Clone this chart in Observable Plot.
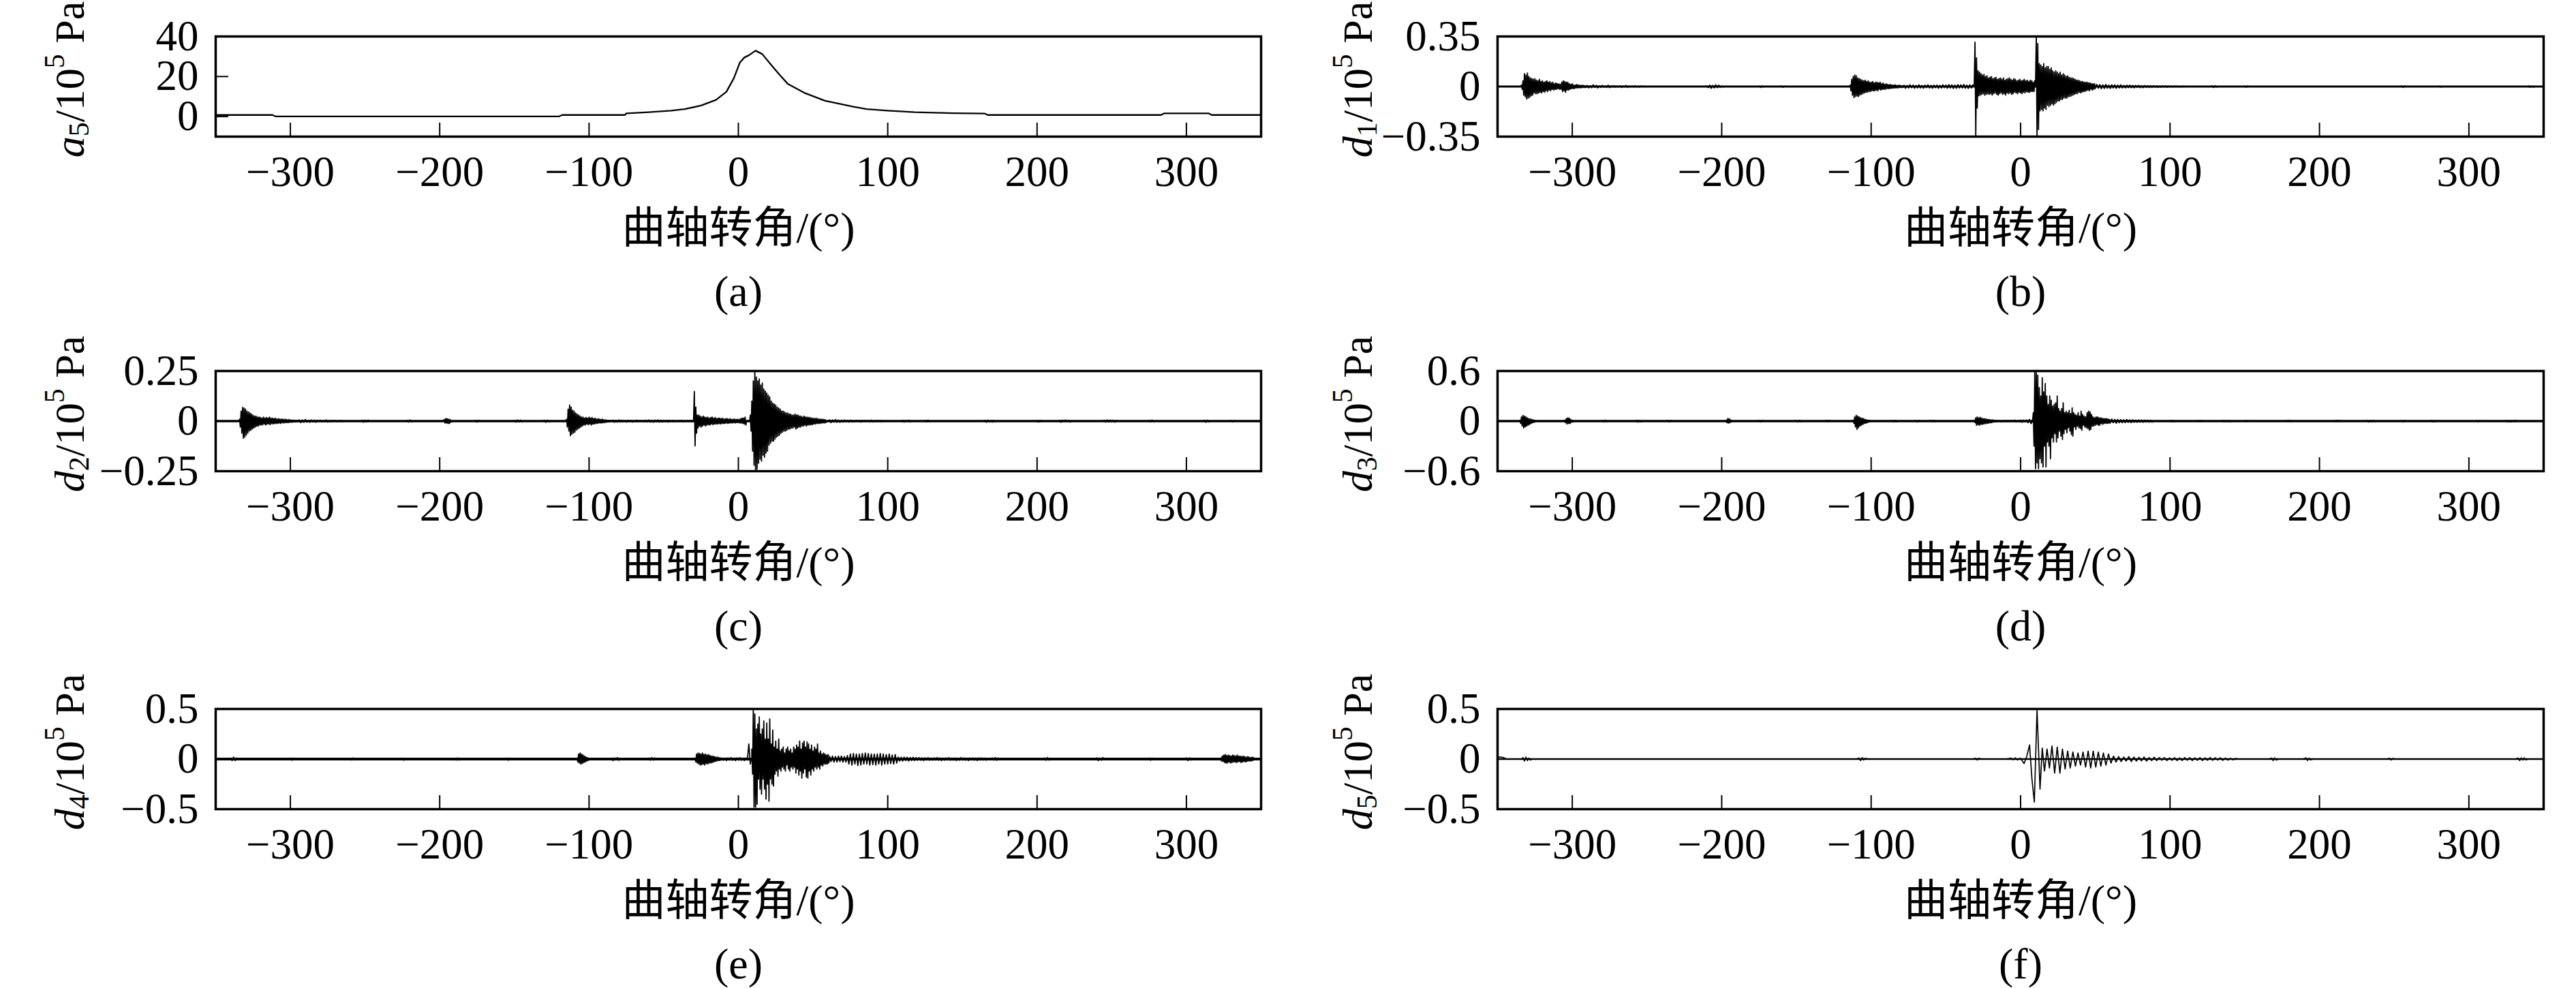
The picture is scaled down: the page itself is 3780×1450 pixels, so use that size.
<!DOCTYPE html>
<html><head><meta charset="utf-8">
<script src="https://cdn.jsdelivr.net/npm/d3@7"></script>
<script src="https://cdn.jsdelivr.net/npm/@observablehq/plot@0.6"></script>
<style>
html,body{margin:0;padding:0;background:#fff;overflow:hidden}
#wrap{position:relative;width:3780px;height:1450px;overflow:hidden;background:#fff}
.panel{position:absolute;width:1890px}
</style>
</head><body><div id="wrap"></div>
<script>
// ---------- tick labels / texts ----------
const xTicks = [-300, -200, -100, 0, 100, 200, 300];
const xTickLabels = ["−300", "−200", "−100", "0", "100", "200", "300"];
const xDomain = [-350, 350];
const xLabel = "曲轴转角/(°)";
const captions = ["(a)", "(b)", "(c)", "(d)", "(e)", "(f)"];
const ySymbols = ["a", "d", "d", "d", "d", "d"];
const ySubs = ["5", "1", "2", "3", "4", "5"];
const yUnit = ["/10", "5", "\u00a0Pa"];
const yTicksA5 = [0, 20, 40];
const yTickLabelsA5 = ["0", "20", "40"];
const yDomainA5 = [-10, 40];
const yTicksD1 = [-0.35, 0, 0.35];
const yTickLabelsD1 = ["−0.35", "0", "0.35"];
const yTicksD2 = [-0.25, 0, 0.25];
const yTickLabelsD2 = ["−0.25", "0", "0.25"];
const yTicksD3 = [-0.6, 0, 0.6];
const yTickLabelsD3 = ["−0.6", "0", "0.6"];
const yTicksD4 = [-0.5, 0, 0.5];
const yTickLabelsD4 = ["−0.5", "0", "0.5"];
const yTicksD5 = [-0.5, 0, 0.5];
const yTickLabelsD5 = ["−0.5", "0", "0.5"];

// ---------- a5 (approximation) ----------
const a5Angle = [-350,-312,-310,-120,-118,-76,-75,-60,-45,-36,-25,-15,-8,-3,1,4,7,11.5,16,23,28,33,44,58,77,86,100,118,144,165,167,283,285,315,317,350];
const a5Value = [0.8,0.8,0.1,0.1,0.8,0.8,1.6,2.2,3.0,3.7,5.5,8.3,12.4,19.2,27,29.5,30.6,32.9,31.2,24.9,20.5,16.4,11.9,7.9,4.9,3.7,3.0,2.2,1.7,1.5,0.8,0.8,1.6,1.6,0.8,0.8];

// ---------- detail signals: [start angle, angle step, values] ----------
const d1Segments = [
 [-334,0.5,[.01,-.02,.04,-.06,.09,-.07,.08,-.087,.095,-.08,.07,-.075,.06,-.065,.055,-.06,.05,-.045,.055,-.05,.045,-.05,.04,-.045,.05,-.04,.035,-.045,.04,-.035,.03,-.04,.035,-.03,.04,-.035,.03,-.025,.035,-.03,.025,-.02,.03,-.025,.02,-.02,.025,-.02,.02,-.015,.02,-.02,.015,-.02,.03,-.035,.04,-.03,.035,-.04,.03,-.025,.03,-.025,.02,-.02,.015,-.015,.02,-.015,.01,-.015,.01,-.01,.015,-.01,.01,-.008,.01,-.01,.008,-.008,.01,-.006,.006,-.008,.005,-.005]],
 [-290,1,[.008,-.01,.006,-.008,.012,-.006,.008,-.01,.005,-.006,.008,-.005,.004,-.006,.01,-.008,.005,-.004,.006,-.005,.004,-.003,.005,-.006,.004,-.003,.008,-.006,.004,-.003,.003,-.004,.005,-.003,.002,-.003,.004,-.002,.003,-.002]],
 [-210,1,[.004,-.008,.01,-.012,.008,-.01,.012,-.008,.01,-.006,.004,-.003]],
 [-175,1,[.003,-.006,.004,-.003]],
 [-160,1,[.004,-.005,.003]],
 [-114,0.5,[.01,-.03,.05,-.06,.07,-.077,.08,-.07,.075,-.065,.06,-.07,.055,-.06,.05,-.055,.045,-.05,.04,-.045,.045,-.04,.035,-.04,.04,-.035,.03,-.035,.03,-.03,.035,-.03,.025,-.03,.03,-.025,.03,-.03,.025,-.02,.03,-.025,.02,-.02,.025,-.02,.015,-.02,.02,-.015,.015,-.015,.012,-.015,.015,-.012,.01,-.012,.01,-.01,.012,-.01,.008,-.01,.008,-.008,.01,-.006,.006,-.008,.005,-.005]],
 [-78,1,[.01,-.012,.008,-.01,.012,-.008,.01,-.012,.008,-.01,.012,-.01,.008,-.012,.01,-.008,.012,-.01,.008,-.012,.01,-.008,.01,-.012,.008,-.01,.012,-.008,.01,-.012,.014,-.01,.012,-.014,.01,-.012,.014,-.01,.012,-.01,.015,-.012,.01,-.014,.012,-.01,.012]],
 [-31,0.5,[.02,.31,-.36,.2,-.15,.11,-.065,.1,-.06,.09,-.055,.08,-.05,.085,-.06,.07,-.055,.075,-.05,.06,-.055,.065,-.05,.07,-.06,.055,-.05,.06,-.045,.065,-.055,.05,-.06,.055,-.05,.06,-.045,.05,-.055,.06,-.05,.045,-.06,.05,-.045,.055,-.05,.06,-.045,.05,-.055,.045,-.05,.055,-.04,.05,-.045,.04,-.05,.045,-.04,.05,-.045,.04,-.05,.045,-.04,.05,-.045,.04,-.035,.045,-.04,.035,-.04,.045,-.035,.04,-.035,.03,-.035,.04]],
 [10.5,0.5,[.36,-.36,.3,-.3,.16,-.17,.15,-.16,.14,-.17,.16,-.15,.13,-.16,.14,-.13,.14,-.14,.12,-.13,.13,-.12,.11,-.13,.1,-.12,.11,-.11,.1,-.1,.09,-.1,.1,-.09,.08,-.09,.09,-.08,.08,-.08,.07,-.08,.075,-.07,.065,-.07,.06,-.065,.06,-.06,.055,-.055,.05,-.05,.045,-.05,.045,-.04,.04,-.045,.035,-.04,.035,-.035,.03,-.035,.03,-.03,.03,-.025,.025,-.03,.025,-.02,.02,-.025,.02,-.02,.02,-.015]],
 [51,1,[.015,-.012,.014,-.015,.012,-.014,.015,-.012,.01,-.014,.012,-.01,.012,-.012,.01,-.01,.012,-.01,.008,-.01,.01,-.008,.01,-.008,.008,-.01,.008,-.006,.008,-.008,.006,-.008,.007,-.006,.006,-.007,.005,-.006,.006,-.005,.005,-.006,.004,-.005,.005,-.004,.004,-.005,.004,-.004,.003,-.004,.004,-.003,.003,-.003,.002,-.003,.003,-.002]],
 [128,1,[.004,-.006,.005,-.004]],
 [150,1,[.003,-.005,.004]],
 [255,1,[.004,-.006,.004]],
 [280,1,[.003,-.004]],
 [340,1,[.004,-.005,.003,-.004]]
];

const d2Segments = [
 [-334,0.5,[.01,-.03,.05,-.06,.068,-.085,.065,-.08,.06,-.07,.05,-.06,.045,-.05,.04,-.045,.035,-.04,.03,-.035,.025,-.03,.025,-.025,.02,-.025,.02,-.02,.018,-.02,.015,-.018,.02,-.015,.015,-.02,.018,-.015,.015,-.015,.02,-.018,.015,-.012,.015,-.015,.012,-.012,.015,-.012,.01,-.012,.012,-.01,.01,-.012,.01,-.008,.01,-.01,.008,-.008,.01,-.008,.006,-.008,.008,-.006,.006,-.006,.005,-.006,.005,-.004,.004,-.005,.004,-.004,.004,-.003]],
 [-294,1,[.006,-.008,.005,-.006,.008,-.005,.004,-.006,.006,-.004,.005,-.006,.004,-.003,.005,-.004,.003,-.004,.006,-.005,.003,-.004,.004,-.003,.003,-.004,.002,-.003,.004,-.003]],
 [-252,1,[.004,-.006,.005,-.004,.005]],
 [-222,1,[.003,-.005,.006,-.004]],
 [-197,0.5,[.008,-.01,.012,-.01,.012,-.012,.01,-.012,.008,-.006]],
 [-176,1,[.004,-.005,.004]],
 [-150,1,[.003,-.005,.006,-.004,.005,-.003]],
 [-130,1,[.004,-.006,.005,-.004]],
 [-115,0.5,[.01,-.03,.06,-.05,.08,-.073,.07,-.065,.055,-.06,.05,-.055,.04,-.045,.035,-.04,.03,-.035,.025,-.03,.02,-.025,.02,-.02,.015,-.02,.018,-.015,.015,-.018,.02,-.015,.015,-.02,.018,-.015,.012,-.015,.015,-.012,.01,-.012,.012,-.01,.01,-.01,.008,-.01,.01,-.008,.006,-.008,.006,-.006,.005,-.005,.004,-.004,.004,-.003]],
 [-84,1,[.005,-.006,.004,-.005,.006,-.004,.005,-.004,.003,-.005,.004,-.003,.004,-.005,.003,-.004,.005,-.003,.004,-.003,.003,-.004,.005,-.004,.006,-.005,.004,-.006,.005,-.004,.006,-.005,.004,-.005,.004,-.003,.004,-.005,.004,-.003,.004,-.004,.003,-.003,.004,-.003,.004,-.004,.003,-.003,.003,-.003,.004,-.004]],
 [-30,0.5,[.01,.148,-.124,.07,-.06,.03,-.035,.03,-.025,.025,-.03,.02,-.025,.025,-.02,.02,-.025,.018,-.02,.02,-.018,.015,-.02,.018,-.015,.02,-.018,.015,-.015,.018,-.015,.012,-.015,.015,-.012,.015,-.015,.012,-.012,.015,-.012,.01,-.012,.012,-.01,.012,-.012,.01,-.01,.012,-.01,.008,-.01,.01,-.008,.01,-.01,.008,-.008,.01,-.008,.008,-.01,.012,-.01,.015,-.012,.015,-.015,.02,-.02]],
 [8,0.5,[.03,-.05,.1,-.15,.2,-.22,.245,-.25,.22,-.24,.2,-.21,.21,-.19,.18,-.2,.19,-.17,.16,-.18,.15,-.16,.14,-.15,.13,-.12,.12,-.11,.1,-.1,.09,-.1,.085,-.09,.08,-.08,.07,-.075,.065,-.07,.06,-.06,.05,-.055,.05,-.05,.045,-.05,.04,-.045,.04,-.04,.035,-.04,.035,-.035,.03,-.035,.03,-.03,.035,-.04,.03,-.035,.03,-.03,.025,-.03,.025,-.025,.02,-.025,.025,-.02,.02,-.025,.02,-.02,.018,-.02,.018,-.018,.015,-.018,.015,-.015,.012,-.015,.015,-.012,.012,-.012,.01,-.012,.01,-.01,.01,-.01,.008,-.01,.008,-.008]],
 [61,1,[.006,-.008,.006,-.005,.008,-.006,.005,-.006,.004,-.005,.006,-.004,.004,-.005,.005,-.004,.003,-.004,.004,-.003,.004,-.005,.004,-.003,.004,-.003,.003,-.004,.005,-.004,.003,-.003,.004,-.003,.003,-.004]],
 [110,1,[.004,-.005,.004,-.003,.005,-.004]],
 [125,1,[.003,-.004,.005,-.003]],
 [165,1,[.004,-.006,.005,-.004,.003,-.005,.004,-.003]],
 [200,1,[.003,-.005,.004,-.003]],
 [215,1,[.004,-.006,.005,-.004,.006,-.003,.004,-.005]],
 [245,1,[.004,-.005,.006,-.004,.005,-.003,.004,-.005,.003]],
 [275,1,[.003,-.004,.005,-.003]],
 [312,1,[.004,-.006,.005,-.004]],
 [330,1,[.003,-.004,.003]]
];

const d3Segments = [
 [-335,0.5,[.01,-.03,.05,-.06,.068,-.082,.06,-.07,.05,-.06,.04,-.05,.03,-.04,.025,-.03,.02,-.02,.015,-.015,.01,-.01]],
 [-305,0.5,[.01,-.02,.03,-.035,.04,-.03,.035,-.03,.02,-.015,.01,-.01]],
 [-280,1,[.008,-.01,.012,-.008]],
 [-257,1,[.01,-.012,.008,-.01]],
 [-236,1,[.008,-.01,.006]],
 [-197,0.5,[.01,-.02,.03,-.025,.03,-.02,.015,-.01]],
 [-175,1,[.008,-.01,.008]],
 [-150,1,[.008,-.01,.01,-.008]],
 [-130,1,[.01,-.008,.008]],
 [-112,0.5,[.01,-.03,.05,-.07,.07,-.1,.06,-.08,.05,-.06,.04,-.05,.035,-.04,.03,-.03,.02,-.025,.015,-.02,.012,-.01,.01,-.008]],
 [-86,1,[.008,-.01,.01,-.008]],
 [-70,1,[.006,-.01,.008]],
 [-60,1,[.01,-.008,.01,-.006]],
 [-31,0.5,[.01,-.02,.04,-.05,.05,-.045,.04,-.05,.045,-.04,.035,-.04,.03,-.035,.03,-.03,.025,-.03,.02,-.025,.02,-.02,.015,-.02,.015,-.015,.012,-.01,.01,-.01]],
 [-16,1,[.008,-.006,.008,-.01,.006,-.008,.01,-.008,.006,-.008,.01,-.008,.012,-.01,.008,-.01,.012,-.014,.012,-.01,.015,-.02,.02,-.03]],
 [8.5,0.5,[.1,-.3,.59,-.57,.58,-.5,.55,-.57,.4,-.45,.3,-.5,.52,-.55,.35,-.3,.45,-.55,.3,-.25,.2,-.3,.3,-.45,.25,-.2,.18,-.25,.2,-.15,.22,-.25,.3,-.2,.15,-.12,.12,-.18,.15,-.22,.22,-.15,.1,-.1,.12,-.14,.1,-.08,.13,-.12,.09,-.16,.16,-.18,.1,-.07,.08,-.1,.07,-.06,.1,-.08,.06,-.09,.12,-.11,.08,-.05,.06,-.07,.05,-.08,.1,-.09,.12,-.11,.11,-.1,.08,-.06,.05,-.06,.04,-.05,.05,-.04,.05,-.05,.04,-.05,.04,-.03,.035,-.04,.03,-.03,.03,-.025,.03,-.03,.025,-.025,.02,-.025]],
 [61,1,[.025,-.02,.02,-.025,.02,-.02,.018,-.02,.015,-.018,.02,-.015,.015,-.018,.015,-.015,.012,-.015,.015,-.012,.012,-.015,.012,-.01,.012,-.012,.01,-.012]],
 [100,1,[.008,-.01,.008,-.006]],
 [118,1,[.006,-.008,.01,-.008,.006]],
 [135,1,[.008,-.01,.008,-.006,.008,-.01]],
 [150,1,[.006,-.008,.006]],
 [178,1,[.008,-.006,.01,-.008]],
 [210,1,[.006,-.008,.01,-.006,.008]],
 [232,1,[.008,-.01,.006,-.008,.01,-.008]],
 [255,1,[.006,-.008,.008]],
 [275,1,[.008,-.01,.008,-.006]],
 [305,1,[.006,-.008,.006]],
 [325,1,[.008,-.01,.008,-.01,.006,-.008,.01,-.006]]
];

const d4Segments = [
 [-340,1,[.01,-.015,.02,-.015,.01]],
 [-300,1,[.01,-.012,.01]],
 [-260,1,[.008,-.01,.012,-.008]],
 [-225,1,[.01,-.012,.008]],
 [-190,1,[.008,-.01,.012,-.01,.008]],
 [-155,1,[.01,-.012,.01]],
 [-108,0.5,[.01,-.03,.05,-.04,.06,-.05,.05,-.045,.04,-.035,.03,-.03,.02,-.02,.015,-.015]],
 [-85,1,[.01,-.015,.012,-.01,.015,-.012]],
 [-60,1,[.01,-.012,.015,-.01,.012]],
 [-29,0.5,[.01,-.03,.05,-.04,.06,-.05,.055,-.06,.05,-.055,.06,-.05,.045,-.06,.05,-.045,.04,-.05,.045,-.04,.035,-.04,.03,-.035,.03,-.03,.025,-.025,.02,-.02,.02,-.015,.015,-.015,.012,-.01]],
 [-11,1,[.01,-.012,.01,-.015,.012,-.01,.015,-.012,.01,-.015,.012,-.01,.015,-.012,.01,-.015,.012,-.01,.15,-.05]],
 [9,0.5,[.1,-.15,.5,-.48,.45,-.48,.3,-.45,.35,-.2,.42,-.3,.25,-.35,.3,-.2,.38,-.3,.2,-.4,.36,-.25,.2,-.42,.4,-.2,.15,-.25,.29,-.27,.12,-.15,.18,-.12,.1,-.17,.2,-.1,.08,-.12,.1,-.08,.12,-.1,.06,-.12,.1,-.06,.12,-.1,.08,-.12,.1,-.08,.06,-.1,.12,-.08,.1,-.14,.14,-.1,.12,-.16,.18,-.12,.1,-.19,.16,-.14,.18,-.1,.12,-.18,.17,-.19,.15,-.12,.1,-.16,.14,-.1,.08,-.12,.12,-.08,.1,-.1,.15,-.08,.06,-.1,.08,-.06,.05,-.07,.06,-.05,.05,-.05,.04,-.05,.045,-.04]],
 [61,1,[.03,-.025,.03,-.03,.025,-.03,.03,-.025,.03,-.03,.025,-.03,.035,-.05,.05,-.06,.055,-.05,.05,-.065,.05,-.06,.055,-.05,.06,-.05,.055,-.06,.05,-.055,.05,-.06,.05,-.05,.055,-.06,.05,-.05,.045,-.05,.05,-.045,.04,-.05,.045,-.04,.02,-.02,.018,-.02,.02,-.015,.018,-.02,.015,-.015,.018,-.015,.015,-.012]],
 [121,1,[.015,-.012,.012,-.015,.012,-.01,.015,-.012,.01,-.012,.012,-.01,.015,-.012,.012,-.015,.01,-.012,.012,-.01,.015,-.012,.01,-.012,.012,-.015,.01,-.012,.015,-.01,.012,-.012,.01,-.015,.012,-.01,.012,-.012,.01,-.015,.012,-.01,.012,-.01,.01,-.012]],
 [170,1,[.012,-.01,.015,-.012,.01]],
 [205,1,[.01,-.012,.015,-.01]],
 [240,1,[.012,-.015,.01,-.012,.015]],
 [275,1,[.01,-.012,.01]],
 [300,1,[.012,-.015,.012,-.01]],
 [323,0.5,[.01,-.02,.03,-.025,.04,-.035,.045,-.04,.035,-.04,.04,-.03,.035,-.04,.03,-.035,.04,-.03,.035,-.03,.03,-.035,.04,-.03,.03,-.025,.03,-.035,.025,-.03,.03,-.025,.025,-.03,.02,-.025,.025,-.02,.02,-.02,.015,-.02,.02,-.015,.015]]
];

const d5Angle = [-350,-348,-346,-344, -334,-333,-332,-331,-330,-329,-328,-327, -110,-108,-107,-106,-105,-104,-102, -32,-30,-29,-28,-26,
 -10,-8,-6.5,-5,-3.5,-2,-0.5,1,2.3,4, 6,7.6,9.2,11,13,14.5,
 16,17.7,19.3,21,22.8,24.5,26.3,28,29.8,31.5, 33.2,35,36.7,38.4,40.1,41.8,43.5,45.2,46.9,48.6,
 50.3,52,53.7,55.4,57.1,58.8,60.5,62.2,63.9,65.6, 67.3,69,70.7,72.4,74.1,75.8,77.5,79.2,80.9,82.6,
 84.3,86,87.7,89.4,91.1,92.8,94.5,96.2,97.9,99.6, 101.3,103,104.7,106.4,108.1,109.8,111.5,113.2,114.9,116.6,
 118.3,120,121.7,123.4,125.1,126.8,128.5,130.2,131.9,133.6, 135.3,137,138.7,140.4,142.1,143.8,146,
 166,168,169,170,171,173, 189,191,192,193,194,196, 245,247,248,249,251, 331,333,334,335,336,337,338,340, 350];
const d5Value = [.02,.02,.015,0, 0,.015,-.02,.02,-.015,.01,-.01,0, 0,.01,-.015,.015,-.01,.008,0, 0,.008,-.01,.008,0,
 0,.005,.01,-.008,.012,-.01,.01,-.015,-.045,.02, .14,-.2,-.43,.49,-.3,.11,
 -.12,.1,-.09,.13,-.14,.12,-.14,.1,-.1,.08, -.09,.07,-.07,.06,-.06,.07,-.08,.08,-.09,.08,
 -.08,.07,-.07,.06,-.06,.05,-.04,.03,-.03,.025, -.025,.02,-.02,.025,-.025,.02,-.02,.018,-.018,.02,
 -.02,.015,-.015,.018,-.015,.015,-.012,.015,-.015,.012, -.012,.015,-.015,.012,-.015,.015,-.012,.015,-.015,.012,
 -.012,.015,-.015,.012,-.012,.015,-.012,.012,-.01,.012, -.012,.01,-.01,.008,-.008,.006,0,
 0,.01,-.015,.012,-.01,0, 0,.012,-.015,.01,-.008,0, 0,.008,-.01,.006,0, 0,.01,-.015,.012,-.01,.012,-.008,0, 0];

// ---------- helpers ----------
function fromPairs(xs, ys) { return xs.map((x, i) => ({x, y: ys[i]})); }
function fromSegments(segs) {
  const pts = [{x: xDomain[0], y: 0}];
  for (const [start, step, vals] of segs) {
    pts.push({x: start - step, y: 0});
    vals.forEach((v, i) => pts.push({x: start + i * step, y: v}));
    pts.push({x: start + vals.length * step, y: 0});
  }
  pts.push({x: xDomain[1], y: 0});
  return pts.sort((a, b) => a.x - b.x);
}

const panels = [
  {data: fromPairs(a5Angle, a5Value), domain: yDomainA5, ticks: yTicksA5, labels: yTickLabelsA5, zero: false, lw: 2.3},
  {data: fromSegments(d1Segments), domain: [yTicksD1[0], yTicksD1[2]], ticks: yTicksD1, labels: yTickLabelsD1, zero: true, zw: 3, lw: 1.8},
  {data: fromSegments(d2Segments), domain: [yTicksD2[0], yTicksD2[2]], ticks: yTicksD2, labels: yTickLabelsD2, zero: true, zw: 3.5, lw: 1.8},
  {data: fromSegments(d3Segments), domain: [yTicksD3[0], yTicksD3[2]], ticks: yTicksD3, labels: yTickLabelsD3, zero: true, zw: 3.5, lw: 1.8},
  {data: fromSegments(d4Segments), domain: [yTicksD4[0], yTicksD4[2]], ticks: yTicksD4, labels: yTickLabelsD4, zero: true, zw: 4.2, lw: 1.8},
  {data: fromPairs(d5Angle, d5Value), domain: [yTicksD5[0], yTicksD5[2]], ticks: yTicksD5, labels: yTickLabelsD5, zero: true, zw: 2.6, lw: 1.7}
];

const W = 1890, H = 470, MT = 53, MB = H - 53 - 147;
const rowTop = [0, 491, 987];
const serif = "'Liberation Serif','Times New Roman','Noto Sans CJK SC',serif";
const wrap = document.getElementById("wrap");

panels.forEach((p, k) => {
  const col = k % 2, row = Math.floor(k / 2);
  const ML = col === 0 ? 316 : 307;
  const MR = col === 0 ? 40 : 48;
  const innerW = W - ML - MR, innerH = H - MT - MB;
  const marks = [];
  if (p.zero) marks.push(Plot.ruleY([0], {stroke: "black", strokeWidth: p.zw}));
  marks.push(Plot.line(p.data, {x: "x", y: "y", stroke: "black", strokeWidth: p.lw, clip: true}));
  marks.push(Plot.tickX(xTicks, {stroke: "black", strokeWidth: 2, insetTop: innerH - 20}));
  marks.push(Plot.tickY(p.ticks, {stroke: "black", strokeWidth: 2, insetRight: innerW - 19}));
  marks.push(Plot.frame({stroke: "black", strokeWidth: 3.5}));
  marks.push(Plot.axisX({ticks: xTicks, tickFormat: d => xTickLabels[xTicks.indexOf(d)], tickSize: 0, tickPadding: 28, fontSize: 63, fontFamily: serif, fill: "black", label: null}));
  marks.push(Plot.axisY({ticks: p.ticks, tickFormat: d => p.labels[p.ticks.indexOf(d)], tickSize: 0, tickPadding: 25, fontSize: 63, fontFamily: serif, fill: "black", label: null}));
  marks.push(Plot.text([xLabel], {text: d => d, frameAnchor: "bottom", dy: 135, lineAnchor: "middle", fontSize: 64, fontFamily: serif, fill: "black"}));
  marks.push(Plot.text([captions[k]], {text: d => d, frameAnchor: "bottom", dy: 228, lineAnchor: "middle", fontSize: 64, fontFamily: serif, fill: "black"}));
  const svg = Plot.plot({
    width: W, height: H,
    marginLeft: ML, marginRight: MR, marginTop: MT, marginBottom: MB,
    x: {domain: xDomain},
    y: {domain: p.domain},
    style: {fontFamily: serif, fontSize: "63px", color: "black", background: "transparent", overflow: "visible"},
    marks
  });
  // rotated y label with italic symbol, subscript and superscript
  const cy = MT + innerH / 2 - 10;
  const t = d3.select(svg).append("text")
    .attr("transform", `translate(102,${cy}) rotate(-90)`)
    .attr("text-anchor", "middle")
    .attr("dominant-baseline", "central")
    .attr("font-family", serif)
    .attr("font-size", 62)
    .attr("fill", "black")
    .style("font-family", serif)
    .style("white-space", "pre");
  t.append("tspan").attr("font-style", "italic").text(ySymbols[k]);
  t.append("tspan").attr("font-size", 42).attr("dy", 14).text(ySubs[k]);
  t.append("tspan").attr("dy", -14).text(yUnit[0]);
  t.append("tspan").attr("font-size", 42).attr("dy", -22).text(yUnit[1]);
  t.append("tspan").attr("dy", 22).text(yUnit[2]);
  const div = document.createElement("div");
  div.className = "panel";
  div.style.left = (col * W) + "px";
  div.style.top = rowTop[row] + "px";
  div.appendChild(svg);
  wrap.appendChild(div);
});
</script>
</body></html>
